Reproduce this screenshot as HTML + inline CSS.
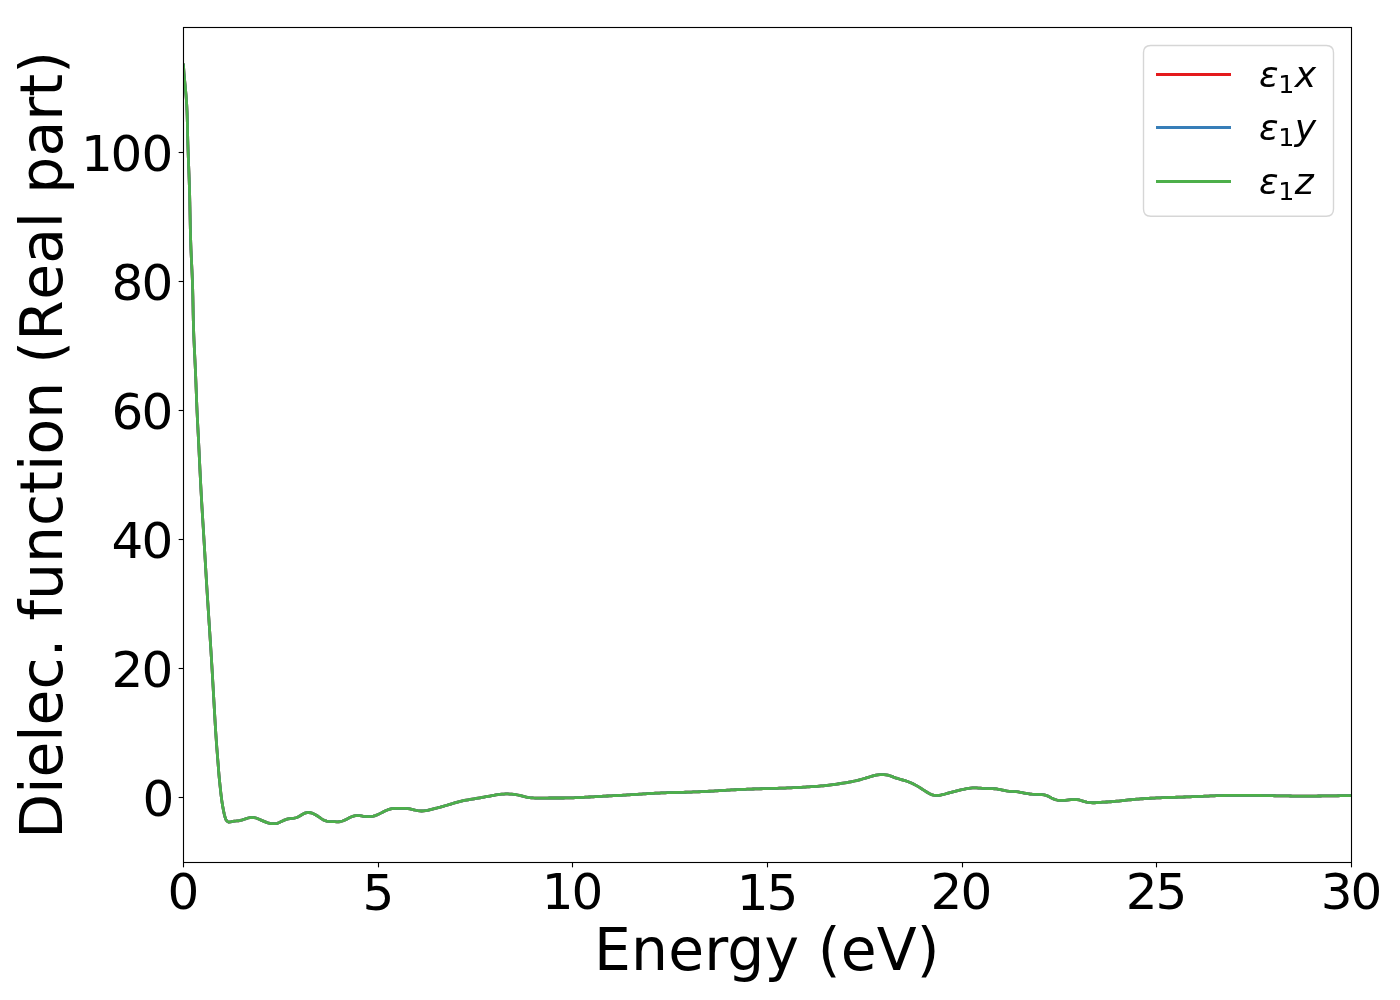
<!DOCTYPE html>
<html lang="en">
<head>
<meta charset="utf-8">
<title>Dielectric function (Real part)</title>
<style>
html,body{margin:0;padding:0;background:#fff;}
body{width:1400px;height:1000px;overflow:hidden;}
svg{display:block;}
text{font-family:"DejaVu Sans","Liberation Sans",sans-serif;fill:#000;}
.tk{font-size:50px;}
.lb{font-size:58.33px;}
.lg{font-size:36.11px;font-style:oblique;}
.sb{font-size:25.28px;font-style:normal;}
</style>
</head>
<body>
<svg width="1400" height="1000" viewBox="0 0 1400 1000">
<rect x="0" y="0" width="1400" height="1000" fill="#ffffff"/>
<defs><clipPath id="ax"><rect x="183.5" y="27.5" width="1168" height="835"/></clipPath></defs>

<defs><path id="crv" d="M183.50 65.00L183.60 67.00L183.72 68.99L183.85 70.99L184.00 72.98L184.16 74.98L184.33 76.97L184.50 78.96L184.69 80.96L184.88 82.95L185.07 84.94L185.26 86.93L185.45 88.92L185.64 90.91L185.82 92.90L186.00 94.90L186.16 96.89L186.32 98.88L186.46 100.88L186.59 102.87L186.71 104.87L186.82 106.86L186.91 108.86L187.00 110.86L187.08 112.86L187.15 114.86L187.21 116.85L187.27 118.85L187.32 120.85L187.37 122.85L187.41 124.85L187.46 126.85L187.50 128.85L187.54 130.86L187.58 132.86L187.63 134.86L187.67 136.86L187.72 138.86L187.77 140.86L187.83 142.86L187.89 144.85L187.96 146.85L188.02 148.85L188.09 150.85L188.17 152.85L188.24 154.85L188.31 156.85L188.39 158.84L188.47 160.84L188.54 162.84L188.62 164.84L188.69 166.84L188.77 168.84L188.85 170.84L188.92 172.83L189.00 174.83L189.07 176.83L189.14 178.83L189.21 180.83L189.28 182.83L189.34 184.83L189.41 186.83L189.47 188.83L189.52 190.83L189.58 192.82L189.63 194.82L189.68 196.82L189.73 198.82L189.77 200.82L189.82 202.82L189.86 204.82L189.90 206.82L189.94 208.82L189.98 210.82L190.02 212.82L190.06 214.82L190.10 216.82L190.14 218.82L190.18 220.82L190.22 222.82L190.26 224.82L190.31 226.82L190.35 228.82L190.40 230.82L190.45 232.82L190.50 234.82L190.56 236.82L190.61 238.81L190.67 240.81L190.74 242.81L190.81 244.81L190.88 246.81L190.95 248.81L191.03 250.81L191.12 252.80L191.21 254.80L191.30 256.80L191.39 258.80L191.49 260.80L191.58 262.79L191.68 264.79L191.78 266.79L191.87 268.79L191.97 270.78L192.06 272.78L192.15 274.78L192.23 276.78L192.31 278.78L192.39 280.78L192.46 282.77L192.53 284.77L192.59 286.77L192.65 288.77L192.70 290.77L192.75 292.77L192.80 294.77L192.85 296.77L192.89 298.77L192.93 300.77L192.97 302.77L193.01 304.77L193.05 306.77L193.09 308.77L193.12 310.77L193.16 312.77L193.20 314.77L193.25 316.77L193.29 318.76L193.34 320.76L193.39 322.76L193.44 324.76L193.50 326.76L193.56 328.76L193.63 330.76L193.70 332.76L193.77 334.76L193.85 336.76L193.93 338.75L194.02 340.75L194.11 342.75L194.20 344.75L194.29 346.75L194.38 348.74L194.48 350.74L194.58 352.74L194.67 354.74L194.77 356.73L194.87 358.73L194.97 360.73L195.06 362.73L195.16 364.73L195.25 366.72L195.34 368.72L195.43 370.72L195.52 372.72L195.60 374.72L195.68 376.71L195.76 378.71L195.84 380.71L195.92 382.71L196.00 384.71L196.07 386.71L196.15 388.71L196.23 390.70L196.30 392.70L196.38 394.70L196.45 396.70L196.53 398.70L196.61 400.70L196.69 402.69L196.77 404.69L196.86 406.69L196.94 408.69L197.03 410.69L197.12 412.69L197.22 414.68L197.31 416.68L197.41 418.68L197.51 420.68L197.61 422.67L197.71 424.67L197.81 426.67L197.92 428.67L198.02 430.66L198.12 432.66L198.23 434.66L198.33 436.65L198.43 438.65L198.53 440.65L198.63 442.65L198.73 444.64L198.83 446.64L198.93 448.64L199.03 450.64L199.13 452.64L199.22 454.63L199.32 456.63L199.42 458.63L199.51 460.63L199.61 462.62L199.71 464.62L199.81 466.62L199.90 468.62L200.00 470.61L200.10 472.61L200.20 474.61L200.30 476.61L200.40 478.60L200.50 480.60L200.61 482.60L200.71 484.60L200.82 486.59L200.92 488.59L201.03 490.59L201.14 492.58L201.25 494.58L201.37 496.58L201.48 498.57L201.60 500.57L201.71 502.57L201.83 504.56L201.95 506.56L202.07 508.56L202.19 510.55L202.31 512.55L202.43 514.55L202.56 516.54L202.68 518.54L202.80 520.53L202.92 522.53L203.05 524.53L203.17 526.52L203.30 528.52L203.42 530.52L203.54 532.51L203.66 534.51L203.79 536.50L203.91 538.50L204.03 540.50L204.15 542.49L204.27 544.49L204.39 546.49L204.51 548.48L204.63 550.48L204.75 552.48L204.87 554.47L204.98 556.47L205.10 558.47L205.22 560.46L205.34 562.46L205.46 564.45L205.58 566.45L205.69 568.45L205.81 570.44L205.93 572.44L206.05 574.44L206.17 576.43L206.29 578.43L206.41 580.43L206.53 582.42L206.65 584.42L206.78 586.42L206.90 588.41L207.03 590.41L207.15 592.40L207.28 594.40L207.40 596.40L207.53 598.39L207.66 600.39L207.79 602.38L207.92 604.38L208.05 606.37L208.18 608.37L208.31 610.37L208.44 612.36L208.57 614.36L208.70 616.35L208.83 618.35L208.96 620.34L209.10 622.34L209.23 624.34L209.36 626.33L209.49 628.33L209.62 630.32L209.75 632.32L209.88 634.31L210.01 636.31L210.14 638.31L210.27 640.30L210.40 642.30L210.53 644.29L210.66 646.29L210.78 648.29L210.91 650.28L211.04 652.28L211.16 654.27L211.28 656.27L211.41 658.27L211.53 660.26L211.65 662.26L211.77 664.25L211.90 666.25L212.01 668.25L212.13 670.24L212.25 672.24L212.37 674.24L212.48 676.23L212.60 678.23L212.71 680.23L212.83 682.22L212.94 684.22L213.06 686.22L213.17 688.21L213.28 690.21L213.39 692.21L213.51 694.20L213.62 696.20L213.73 698.20L213.84 700.20L213.96 702.19L214.07 704.19L214.18 706.19L214.30 708.18L214.41 710.18L214.52 712.18L214.64 714.17L214.76 716.17L214.87 718.17L214.99 720.16L215.11 722.16L215.23 724.16L215.35 726.15L215.48 728.15L215.60 730.14L215.73 732.14L215.86 734.14L216.00 736.13L216.13 738.13L216.27 740.12L216.41 742.12L216.56 744.11L216.70 746.11L216.85 748.10L217.01 750.09L217.17 752.09L217.33 754.08L217.49 756.08L217.65 758.07L217.80 760.06L217.96 762.06L218.12 764.05L218.27 766.05L218.43 768.04L218.58 770.03L218.75 772.03L218.91 774.02L219.09 776.01L219.27 778.00L219.46 779.99L219.66 781.98L219.86 783.97L220.07 785.96L220.28 787.95L220.49 789.94L220.71 791.93L220.94 793.92L221.18 795.90L221.42 797.89L221.69 799.87L221.98 801.85L222.29 803.83L222.62 805.80L222.97 807.77L223.34 809.73L223.74 811.69L224.15 813.65L224.62 815.59L225.17 817.51L225.85 819.41L226.91 821.11L228.63 822.17L230.57 821.98L232.54 821.36L234.52 821.09L236.51 820.97L238.51 820.76L240.48 820.42L242.41 819.90L244.30 819.25L246.19 818.58L248.11 818.00L250.07 817.63L252.07 817.50L254.08 817.61L256.03 818.01L257.90 818.72L259.72 819.57L261.54 820.39L263.39 821.15L265.25 821.90L267.12 822.62L269.03 823.21L270.99 823.56L273.00 823.70L275.01 823.64L276.99 823.33L278.88 822.71L280.69 821.86L282.49 820.96L284.32 820.13L286.19 819.44L288.12 818.92L290.10 818.59L292.09 818.39L294.08 818.16L296.03 817.74L297.92 817.04L299.68 816.10L301.36 815.01L303.07 813.96L304.89 813.14L306.83 812.63L308.83 812.50L310.81 812.75L312.71 813.39L314.51 814.26L316.26 815.24L317.96 816.30L319.61 817.43L321.24 818.59L322.93 819.66L324.74 820.52L326.66 821.12L328.63 821.43L330.63 821.55L332.63 821.63L334.63 821.73L336.63 821.80L338.64 821.75L340.63 821.52L342.56 821.02L344.42 820.27L346.22 819.39L348.00 818.48L349.79 817.60L351.63 816.78L353.52 816.13L355.48 815.72L357.48 815.59L359.48 815.71L361.46 815.97L363.44 816.26L365.43 816.47L367.43 816.59L369.43 816.59L371.43 816.45L373.40 816.11L375.33 815.56L377.20 814.85L379.03 814.02L380.82 813.13L382.59 812.21L384.37 811.29L386.18 810.43L388.04 809.69L389.95 809.11L391.92 808.71L393.90 808.51L395.91 808.43L397.91 808.38L399.91 808.33L401.91 808.30L403.91 808.31L405.91 808.40L407.89 808.61L409.87 808.95L411.83 809.36L413.78 809.81L415.73 810.25L417.69 810.62L419.68 810.88L421.68 811.00L423.68 810.95L425.67 810.74L427.64 810.36L429.57 809.86L431.50 809.33L433.44 808.85L435.39 808.40L437.34 807.96L439.28 807.47L441.21 806.93L443.13 806.36L445.04 805.79L446.96 805.22L448.87 804.64L450.79 804.06L452.70 803.47L454.61 802.88L456.53 802.32L458.46 801.79L460.40 801.30L462.35 800.87L464.31 800.48L466.28 800.13L468.26 799.79L470.23 799.46L472.20 799.13L474.18 798.80L476.15 798.47L478.12 798.13L480.09 797.78L482.06 797.44L484.03 797.08L485.99 796.73L487.96 796.37L489.93 796.01L491.90 795.66L493.87 795.31L495.84 794.98L497.82 794.68L499.80 794.41L501.79 794.20L503.78 794.05L505.78 793.98L507.78 793.97L509.79 794.03L511.79 794.14L513.78 794.33L515.75 794.62L517.71 795.01L519.66 795.47L521.61 795.95L523.55 796.44L525.50 796.90L527.46 797.28L529.44 797.57L531.43 797.78L533.42 797.93L535.42 798.02L537.42 798.08L539.42 798.10L541.42 798.10L543.42 798.08L545.42 798.06L547.42 798.03L549.42 798.01L551.42 797.99L553.42 797.99L555.42 797.99L557.42 797.99L559.42 798.00L561.42 798.00L563.42 797.99L565.42 797.98L567.42 797.95L569.42 797.91L571.42 797.86L573.42 797.79L575.42 797.71L577.41 797.63L579.41 797.53L581.41 797.43L583.41 797.32L585.40 797.22L587.40 797.11L589.40 796.99L591.39 796.88L593.39 796.77L595.39 796.66L597.39 796.54L599.38 796.43L601.38 796.33L603.38 796.22L605.37 796.12L607.37 796.01L609.37 795.91L611.37 795.81L613.36 795.71L615.36 795.60L617.36 795.50L619.35 795.40L621.35 795.29L623.35 795.18L625.35 795.07L627.34 794.96L629.34 794.84L631.34 794.72L633.33 794.59L635.33 794.47L637.32 794.34L639.32 794.21L641.32 794.08L643.31 793.95L645.31 793.82L647.30 793.69L649.30 793.57L651.30 793.45L653.29 793.34L655.29 793.23L657.29 793.13L659.29 793.03L661.28 792.95L663.28 792.87L665.28 792.79L667.28 792.73L669.28 792.67L671.28 792.61L673.28 792.55L675.28 792.50L677.28 792.45L679.27 792.40L681.27 792.35L683.27 792.30L685.27 792.24L687.27 792.19L689.27 792.12L691.27 792.06L693.27 791.98L695.27 791.91L697.27 791.83L699.26 791.74L701.26 791.65L703.26 791.55L705.26 791.45L707.25 791.35L709.25 791.24L711.25 791.13L713.25 791.02L715.24 790.90L717.24 790.78L719.24 790.66L721.23 790.54L723.23 790.42L725.23 790.30L727.22 790.19L729.22 790.07L731.22 789.96L733.21 789.85L735.21 789.74L737.21 789.64L739.20 789.54L741.20 789.44L743.20 789.36L745.20 789.27L747.20 789.20L749.19 789.12L751.19 789.05L753.19 788.99L755.19 788.92L757.19 788.86L759.19 788.80L761.19 788.74L763.19 788.69L765.19 788.63L767.19 788.58L769.19 788.52L771.19 788.46L773.18 788.41L775.18 788.35L777.18 788.29L779.18 788.23L781.18 788.16L783.18 788.09L785.18 788.02L787.18 787.95L789.18 787.87L791.17 787.79L793.17 787.70L795.17 787.61L797.17 787.52L799.17 787.42L801.16 787.32L803.16 787.21L805.16 787.10L807.15 786.98L809.15 786.85L811.15 786.72L813.14 786.59L815.14 786.44L817.13 786.29L819.13 786.13L821.12 785.95L823.11 785.76L825.10 785.56L827.09 785.35L829.08 785.11L831.06 784.86L833.04 784.60L835.02 784.32L837.00 784.04L838.98 783.75L840.96 783.46L842.94 783.17L844.92 782.87L846.89 782.55L848.86 782.21L850.83 781.84L852.79 781.44L854.74 781.01L856.69 780.55L858.63 780.06L860.56 779.55L862.49 779.02L864.41 778.47L866.33 777.90L868.25 777.33L870.16 776.75L872.08 776.18L874.01 775.65L875.96 775.21L877.93 774.88L879.92 774.68L881.93 774.60L883.94 774.64L885.94 774.82L887.90 775.18L889.82 775.73L891.70 776.42L893.57 777.14L895.46 777.82L897.36 778.44L899.27 779.02L901.19 779.57L903.12 780.12L905.04 780.68L906.95 781.27L908.84 781.94L910.69 782.69L912.51 783.52L914.30 784.42L916.05 785.38L917.79 786.39L919.50 787.42L921.19 788.48L922.87 789.56L924.55 790.64L926.24 791.72L927.95 792.77L929.69 793.77L931.50 794.62L933.41 795.19L935.40 795.47L937.41 795.48L939.40 795.28L941.37 794.92L943.33 794.48L945.26 793.98L947.19 793.45L949.11 792.90L951.04 792.36L952.97 791.83L954.90 791.32L956.85 790.85L958.79 790.40L960.74 789.96L962.69 789.51L964.65 789.08L966.61 788.69L968.58 788.36L970.57 788.12L972.56 787.97L974.56 787.91L976.56 787.94L978.56 788.03L980.56 788.16L982.55 788.31L984.55 788.44L986.55 788.52L988.55 788.54L990.55 788.56L992.55 788.61L994.54 788.75L996.52 788.99L998.50 789.32L1000.47 789.69L1002.43 790.09L1004.40 790.47L1006.37 790.82L1008.35 791.11L1010.34 791.33L1012.33 791.47L1014.33 791.58L1016.32 791.73L1018.31 791.97L1020.28 792.29L1022.25 792.66L1024.21 793.04L1026.19 793.40L1028.16 793.73L1030.14 794.00L1032.13 794.21L1034.11 794.34L1036.11 794.42L1038.11 794.46L1040.12 794.50L1042.14 794.58L1044.13 794.81L1046.04 795.32L1047.88 796.10L1049.67 797.03L1051.46 797.97L1053.26 798.84L1055.12 799.54L1057.06 800.02L1059.05 800.31L1061.05 800.42L1063.05 800.41L1065.05 800.30L1067.04 800.12L1069.03 799.91L1071.02 799.70L1073.02 799.52L1075.02 799.46L1077.01 799.60L1078.98 799.96L1080.92 800.48L1082.84 801.08L1084.75 801.67L1086.68 802.15L1088.65 802.48L1090.65 802.68L1092.65 802.76L1094.65 802.75L1096.65 802.66L1098.64 802.51L1100.64 802.35L1102.63 802.22L1104.63 802.11L1106.63 802.00L1108.62 801.89L1110.62 801.76L1112.61 801.60L1114.60 801.43L1116.59 801.24L1118.58 801.04L1120.57 800.82L1122.56 800.61L1124.55 800.39L1126.54 800.17L1128.53 799.95L1130.52 799.75L1132.51 799.55L1134.50 799.37L1136.49 799.20L1138.49 799.04L1140.48 798.88L1142.48 798.74L1144.47 798.60L1146.47 798.48L1148.47 798.36L1150.46 798.25L1152.46 798.14L1154.46 798.04L1156.46 797.95L1158.46 797.86L1160.45 797.78L1162.45 797.71L1164.45 797.63L1166.45 797.56L1168.45 797.50L1170.45 797.43L1172.45 797.37L1174.45 797.31L1176.45 797.25L1178.44 797.19L1180.44 797.12L1182.44 797.06L1184.44 797.00L1186.44 796.93L1188.44 796.86L1190.44 796.78L1192.44 796.70L1194.43 796.62L1196.43 796.54L1198.43 796.45L1200.43 796.36L1202.43 796.28L1204.42 796.19L1206.42 796.10L1208.42 796.02L1210.42 795.94L1212.42 795.86L1214.42 795.78L1216.42 795.71L1218.41 795.65L1220.41 795.59L1222.41 795.54L1224.41 795.49L1226.41 795.45L1228.41 795.42L1230.41 795.39L1232.41 795.37L1234.41 795.35L1236.41 795.34L1238.41 795.33L1240.41 795.33L1242.41 795.33L1244.41 795.34L1246.41 795.35L1248.41 795.36L1250.41 795.38L1252.41 795.40L1254.41 795.42L1256.41 795.45L1258.41 795.48L1260.41 795.51L1262.41 795.54L1264.41 795.57L1266.41 795.61L1268.41 795.65L1270.41 795.68L1272.41 795.72L1274.41 795.76L1276.41 795.79L1278.41 795.83L1280.41 795.86L1282.41 795.90L1284.41 795.93L1286.41 795.96L1288.41 795.98L1290.41 796.00L1292.41 796.02L1294.41 796.04L1296.41 796.05L1298.41 796.06L1300.41 796.07L1302.41 796.07L1304.41 796.08L1306.41 796.07L1308.41 796.07L1310.41 796.06L1312.41 796.06L1314.41 796.04L1316.41 796.03L1318.41 796.01L1320.41 796.00L1322.41 795.98L1324.41 795.95L1326.41 795.93L1328.41 795.90L1330.41 795.88L1332.41 795.85L1334.41 795.82L1336.41 795.78L1338.41 795.75L1340.41 795.71L1342.41 795.68L1344.41 795.64L1346.41 795.60L1348.41 795.56L1350.41 795.52L1351.50 795.50"/></defs>
<g clip-path="url(#ax)" fill="none" stroke-width="2.78" stroke-linejoin="round" stroke-linecap="square">
<use href="#crv" stroke="#e41a1c"/>
<use href="#crv" stroke="#377eb8"/>
<use href="#crv" stroke="#4daf4a"/>
</g>
<g stroke="#000" stroke-width="1.11" fill="none">
<path d="M183.5 862.5V867.36"/>
<path d="M378.5 862.5V867.36"/>
<path d="M572.5 862.5V867.36"/>
<path d="M767.5 862.5V867.36"/>
<path d="M962.5 862.5V867.36"/>
<path d="M1156.5 862.5V867.36"/>
<path d="M1351.5 862.5V867.36"/>
<path d="M183.5 797.5H178.64"/>
<path d="M183.5 668.5H178.64"/>
<path d="M183.5 539.5H178.64"/>
<path d="M183.5 410.5H178.64"/>
<path d="M183.5 281.5H178.64"/>
<path d="M183.5 152.5H178.64"/>
</g>
<rect x="183.5" y="27.5" width="1168" height="835" fill="none" stroke="#000" stroke-width="1.11" stroke-linejoin="miter"/>
<g class="tk">
<text x="167.60" y="909">0</text>
<text x="362.60" y="909.8">5</text>
<text x="541.70 571.60" y="909">10</text>
<text x="736.70 766.60" y="909.8">15</text>
<text x="930.6 960.5" y="909">20</text>
<text x="1125.70 1155.60" y="909">25</text>
<text x="1320.70 1350.60" y="909">30</text>
<text x="142.4" y="816.2">0</text>
<text x="111.45 141.4" y="687.2">20</text>
<text x="111.45 141.4" y="558.2">40</text>
<text x="111.45 141.4" y="429.2">60</text>
<text x="111.45 141.4" y="300.2">80</text>
<text x="80.9 110.5 141.4" y="171.2">100</text>
</g>
<text class="lb" x="594.07" y="970" textLength="345.45" lengthAdjust="spacing">Energy (eV)</text>
<text class="lb" transform="translate(62 444.9) rotate(-90)" x="-393.93 -348.94 -332.66 -296.75 -280.51 -244.60 -212.41 -194.04 -175.67 -155.11 -118.12 -81.04 -49.04 -26.05 -9.71 26.10 62.89 81.25 104.23 145.07 181.08 216.75 232.69 251.05 288.50 324.07 348.18 371.17" y="0">Dielec. function (Real part)</text>
<path d="M1150.7 216.3H1326.3Q1333.5 216.3 1333.5 209.1V52.7Q1333.5 45.5 1326.3 45.5H1150.7Q1143.5 45.5 1143.5 52.7V209.1Q1143.5 216.3 1150.7 216.3Z" fill="#ffffff" fill-opacity="0.8" stroke="#cccccc" stroke-opacity="0.8" stroke-width="1.39" stroke-linejoin="miter"/>
<path d="M1157.4 74.5H1229.6" stroke="#e41a1c" stroke-width="2.78" stroke-linecap="square" fill="none"/>
<text class="lg" x="1258.95" y="87">ε<tspan class="sb" x="1278.15" y="92.7">1</tspan><tspan x="1294.8" y="87">x</tspan></text>
<path d="M1157.4 127.5H1229.6" stroke="#377eb8" stroke-width="2.78" stroke-linecap="square" fill="none"/>
<text class="lg" x="1258.95" y="140.3">ε<tspan class="sb" x="1278.15" y="146">1</tspan><tspan x="1294.8" y="140.3">y</tspan></text>
<path d="M1157.4 181.5H1229.6" stroke="#4daf4a" stroke-width="2.78" stroke-linecap="square" fill="none"/>
<text class="lg" x="1258.95" y="194.1">ε<tspan class="sb" x="1278.15" y="199.8">1</tspan><tspan x="1294.8" y="194.1">z</tspan></text>
</svg>
</body>
</html>
